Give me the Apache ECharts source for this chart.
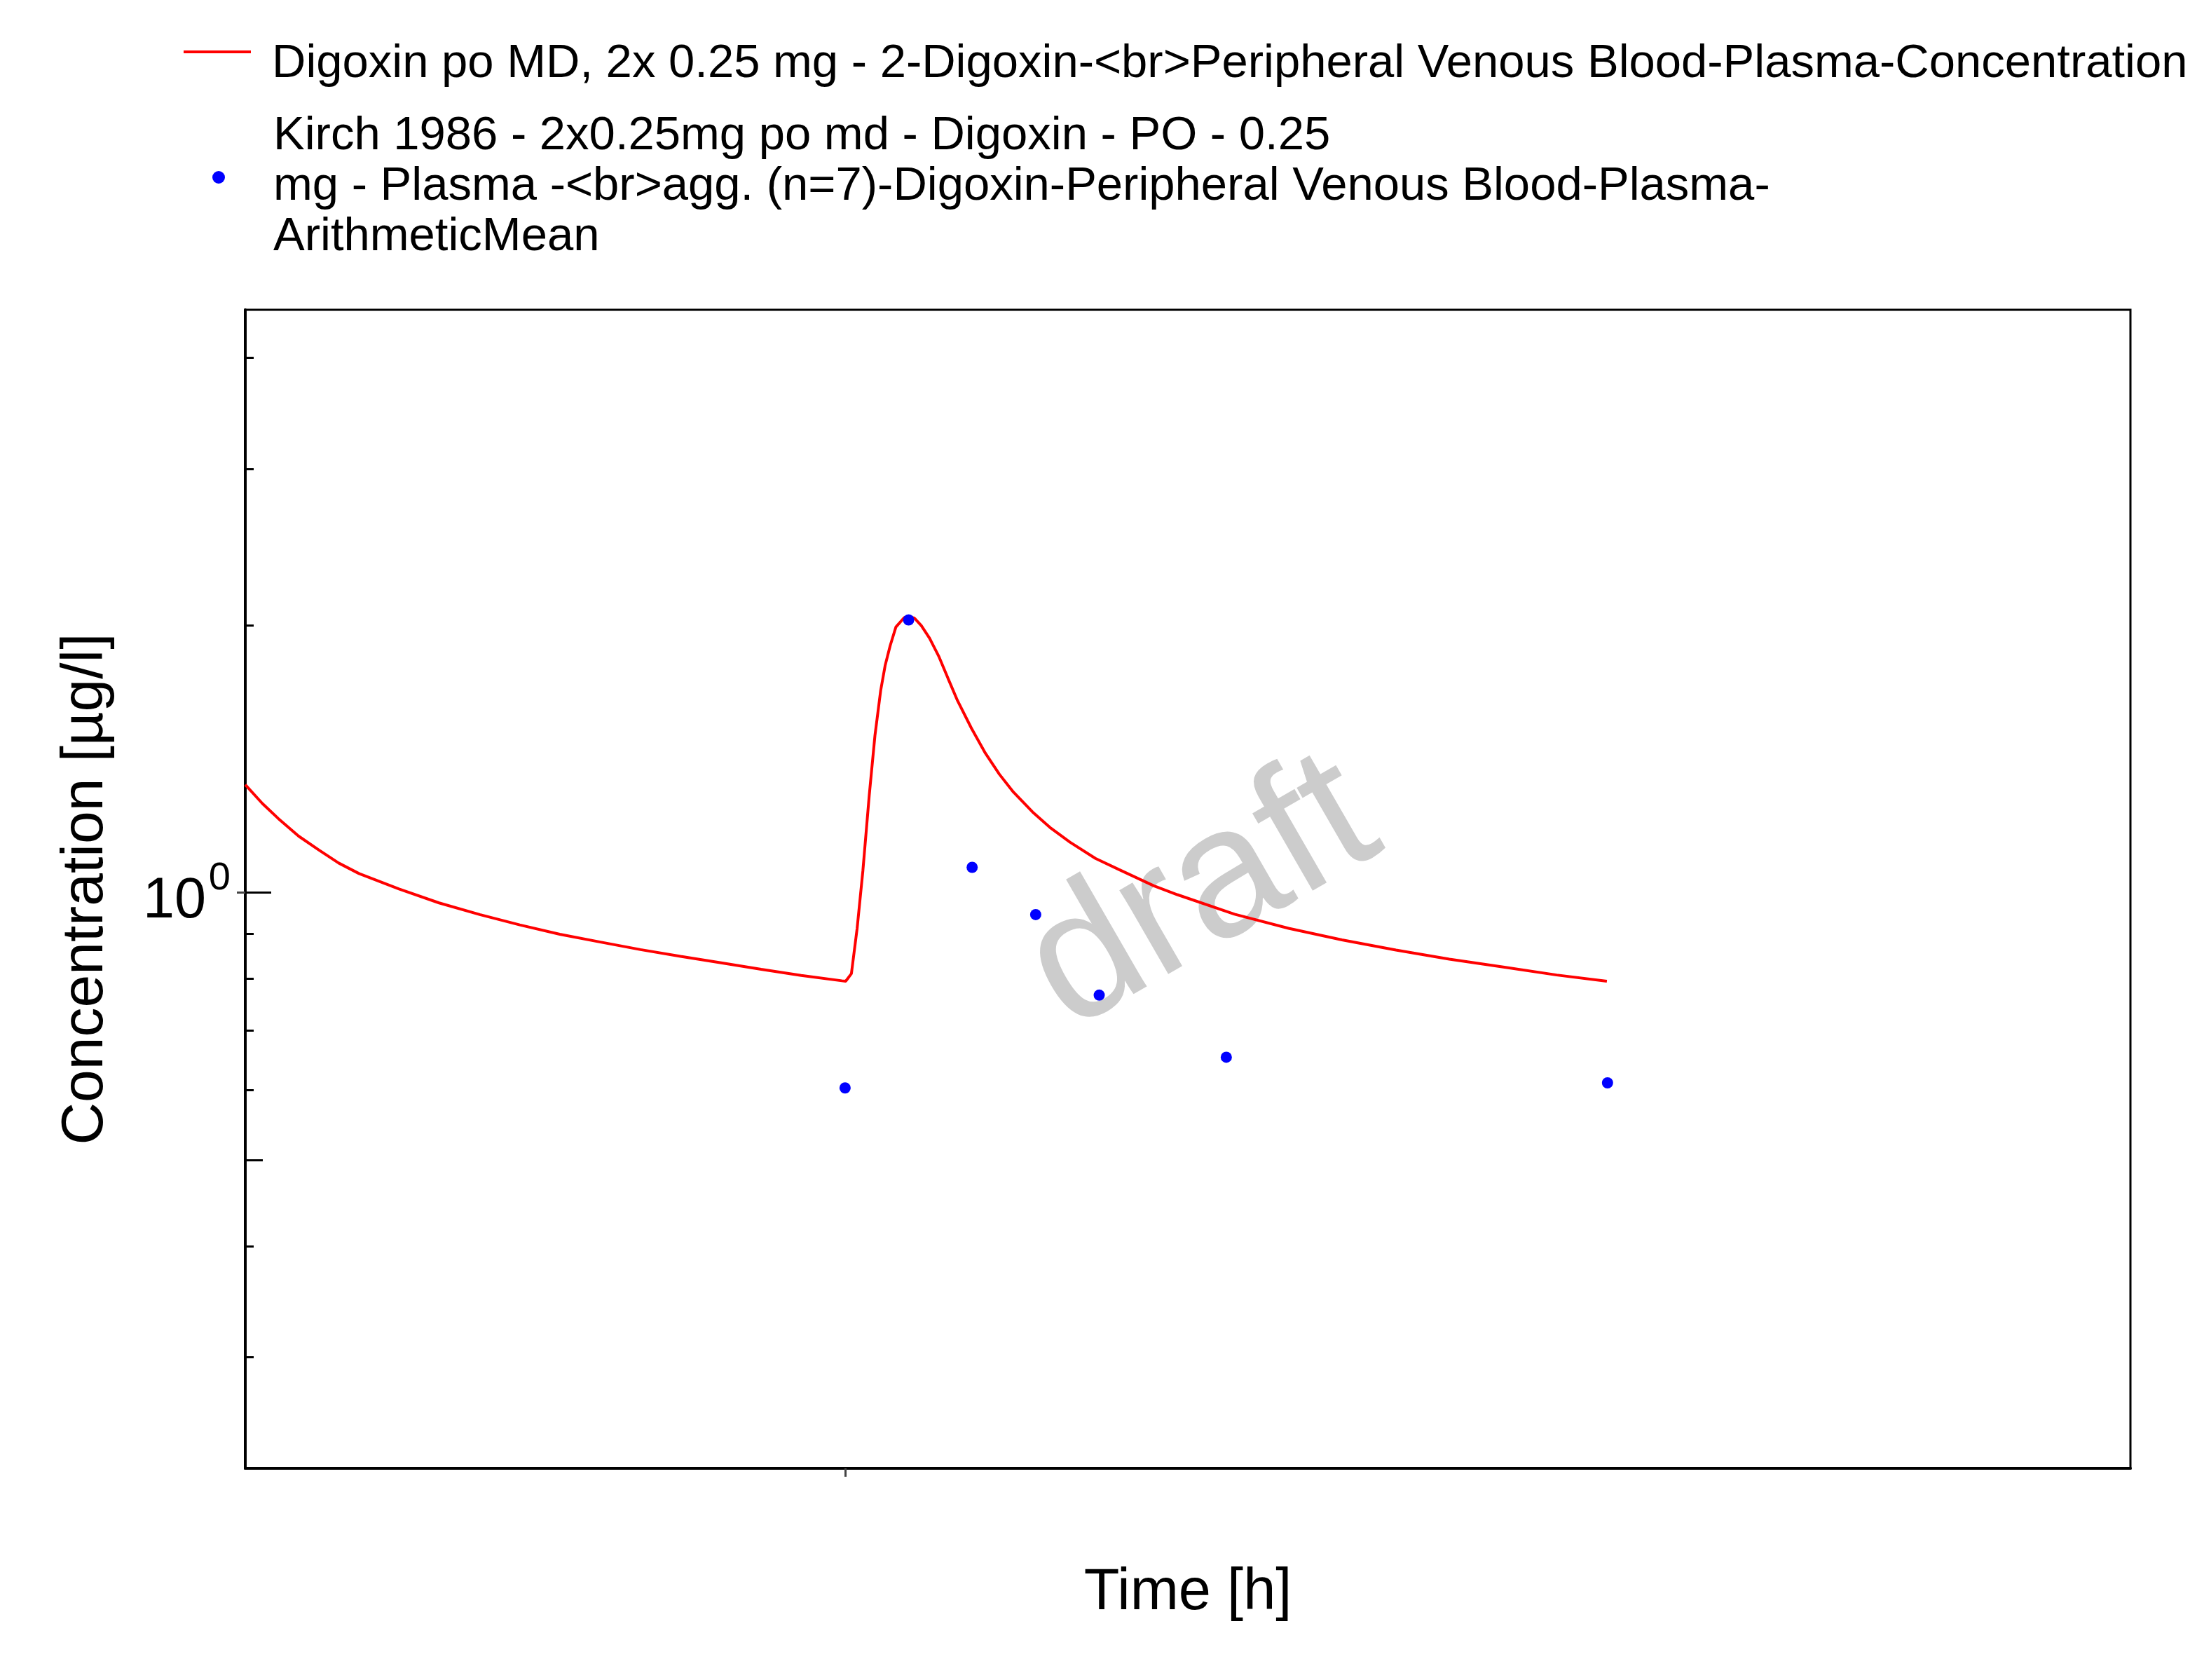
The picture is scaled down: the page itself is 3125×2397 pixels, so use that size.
<!DOCTYPE html>
<html>
<head>
<meta charset="utf-8">
<script src="https://cdn.jsdelivr.net/npm/echarts@6.0.0/dist/echarts.min.js"></script>
<style>
	html, body { margin: 0; padding: 0; background: #fff; }
</style>
</head>
<body>
<div id="main" style="width: 3125px;height:2397px;"></div>
<script type="text/javascript">
	// simulated curve (time in h, concentration in µg/l)
	var simName = 'Digoxin po MD, 2x 0.25 mg - 2-Digoxin-<br>Peripheral Venous Blood-Plasma-Concentration';
	var simTime = [14.56, 14.83, 15.08, 15.40, 15.72, 16.03, 16.35, 16.98, 17.61, 18.25, 18.88, 19.51, 20.15, 20.78,
		21.41, 22.05, 22.68, 23.31, 23.95, 24.01, 24.10, 24.19, 24.28, 24.38, 24.47, 24.56, 24.63, 24.71, 24.80,
		24.93, 25.00, 25.09, 25.20, 25.33, 25.48, 25.62, 25.77, 25.99, 26.21, 26.43, 26.65, 26.95, 27.24, 27.54,
		27.94, 28.31, 28.86, 29.23, 30.13, 30.98, 31.82, 32.67, 33.51, 34.36, 35.20, 35.99];
	var simConc = [1.323, 1.260, 1.212, 1.158, 1.117, 1.080, 1.051, 1.010, 0.974, 0.945, 0.920, 0.898, 0.880, 0.863,
		0.848, 0.834, 0.820, 0.807, 0.796, 0.795, 0.811, 0.912, 1.058, 1.286, 1.502, 1.688, 1.801, 1.897, 1.991,
		2.040, 2.043, 2.038, 1.998, 1.934, 1.842, 1.743, 1.645, 1.531, 1.435, 1.359, 1.298, 1.233, 1.182, 1.140,
		1.093, 1.062, 1.018, 0.995, 0.946, 0.912, 0.885, 0.862, 0.842, 0.825, 0.808, 0.795];

	// observed data (Kirch 1986)
	var obsName = 'Kirch 1986 - 2x0.25mg po md - Digoxin - PO - 0.25 mg - Plasma -<br>agg. (n=7)-Digoxin-Peripheral Venous Blood-Plasma-ArithmeticMean';
	var obsLabel = 'Kirch 1986 - 2x0.25mg po md - Digoxin - PO - 0.25\nmg - Plasma -<br>agg. (n=7)-Digoxin-Peripheral Venous Blood-Plasma-\nArithmeticMean';
	var obsTime = [24, 25, 26, 27, 28, 30, 36];
	var obsConc = [0.603, 2.028, 1.068, 0.945, 0.767, 0.653, 0.611];

	// axes
	var xMin = 14.56, xMax = 44.23;
	var xTicks = [24];
	var yMin = 0.225, yMax = 4.53;
	var yMinorTicks = [0.3, 0.4, 0.6, 0.7, 0.8, 0.9, 2, 3, 4];
	var yMidTicks = [0.5];
	var yMajorTicks = [1];

	var font = 'Liberation Sans, Arial, sans-serif';

	function lg(v) { return Math.log(v) / Math.LN10; }

	// overlay axis in log10 space, only for tick marks / the 10^n label
	function overlayAxis(tick, label) {
		return {
			type: 'value',
			position: 'left',
			min: lg(yMin),
			max: lg(yMax),
			axisLine: { show: false, onZero: false },
			splitLine: { show: false },
			axisTick: tick || { show: false },
			axisLabel: label || { show: false }
		};
	}

	function ticks(values, len, inside, color) {
		return {
			show: true,
			inside: inside,
			length: len,
			customValues: values.map(lg),
			lineStyle: { color: color, width: 3 }
		};
	}

	var chart = echarts.init(document.getElementById('main'), null, { renderer: 'canvas' });

	chart.setOption({
		animation: false,
		backgroundColor: '#fff',
		grid: {
			left: 350, right: 85, top: 442, bottom: 302,
			show: true, borderColor: '#000', borderWidth: 3, backgroundColor: 'transparent'
		},
		legend: [{
			data: [{ name: simName, icon: 'rect' }],
			orient: 'vertical',
			left: 262, top: 20, padding: 0,
			itemWidth: 96, itemHeight: 4,
			itemStyle: { borderWidth: 0 },
			formatter: function (n) { return '{sp| }\n' + n; },
			textStyle: {
				fontSize: 67, fontFamily: font, color: '#000', lineHeight: 72, padding: [0, 0, 0, 25],
				rich: { sp: { fontSize: 10, lineHeight: 36 } }
			}
		}, {
			data: [{ name: obsName, icon: 'circle' }],
			orient: 'vertical',
			left: 303, top: 131, padding: 0,
			itemWidth: 96, itemHeight: 18,
			itemStyle: { borderWidth: 0 },
			formatter: function () { return '{sp| }\n' + obsLabel; },
			textStyle: {
				fontSize: 67, fontFamily: font, color: '#000', lineHeight: 72, padding: [0, 0, 0, 25],
				rich: { sp: { fontSize: 10, lineHeight: 28 } }
			}
		}],
		graphic: [{
			type: 'text',
			x: 1716, y: 1278,
			rotation: Math.PI / 6,
			z: 0,
			silent: true,
			style: {
				text: 'draft', fontSize: 262, fontFamily: font, fill: '#cccccc',
				textAlign: 'center', textVerticalAlign: 'middle', align: 'center', verticalAlign: 'middle'
			}
		}],
		xAxis: {
			type: 'value',
			min: xMin, max: xMax,
			name: 'Time [h]',
			nameLocation: 'middle',
			nameGap: 137,
			nameTextStyle: { fontSize: 83, fontFamily: font, color: '#000' },
			axisLine: { show: true, onZero: false, lineStyle: { color: '#000', width: 4 } },
			axisTick: { show: true, length: 12, customValues: xTicks, lineStyle: { color: '#444', width: 3 } },
			axisLabel: { show: false },
			splitLine: { show: false }
		},
		yAxis: [{
			type: 'log',
			logBase: 10,
			min: yMin, max: yMax,
			position: 'left',
			name: 'Concentration [µg/l]',
			nameLocation: 'middle',
			nameGap: 185,
			nameTextStyle: { fontSize: 84, fontFamily: font, color: '#000' },
			axisLine: { show: true, onZero: false, lineStyle: { color: '#000', width: 4 } },
			axisTick: { show: false },
			minorTick: { show: false },
			axisLabel: { show: false },
			splitLine: { show: false }
		},
			overlayAxis(ticks(yMinorTicks, 12, true, '#000')),
			overlayAxis(ticks(yMidTicks, 25, true, '#000')),
			overlayAxis(ticks(yMajorTicks, 37, true, '#000')),
			overlayAxis(ticks(yMajorTicks, 12, false, '#444')),
			// base "10"
			overlayAxis(null, {
				show: true,
				customValues: yMajorTicks.map(lg),
				margin: 56,
				verticalAlign: 'top',
				lineHeight: 26,
				fontSize: 81, fontFamily: font, color: '#000',
				formatter: function () { return '10'; }
			}),
			// exponent
			overlayAxis(null, {
				show: true,
				customValues: yMajorTicks.map(lg),
				margin: 21,
				verticalAlign: 'bottom',
				lineHeight: 40,
				fontSize: 56, fontFamily: font, color: '#000',
				formatter: function (v) { return String(Math.round(v)); }
			})
		],
		series: [{
			name: simName,
			type: 'line',
			xAxisIndex: 0,
			yAxisIndex: 0,
			symbol: 'none',
			smooth: false,
			z: 3,
			lineStyle: { color: '#ff0000', width: 4 },
			itemStyle: { color: '#ff0000' },
			data: simTime.map(function (t, i) { return [t, simConc[i]]; })
		}, {
			name: obsName,
			type: 'scatter',
			xAxisIndex: 0,
			yAxisIndex: 0,
			symbol: 'circle',
			symbolSize: 16,
			z: 4,
			itemStyle: { color: '#0000ff', opacity: 1 },
			data: obsTime.map(function (t, i) { return [t, obsConc[i]]; })
		}]
	});
</script>
</body>
</html>
